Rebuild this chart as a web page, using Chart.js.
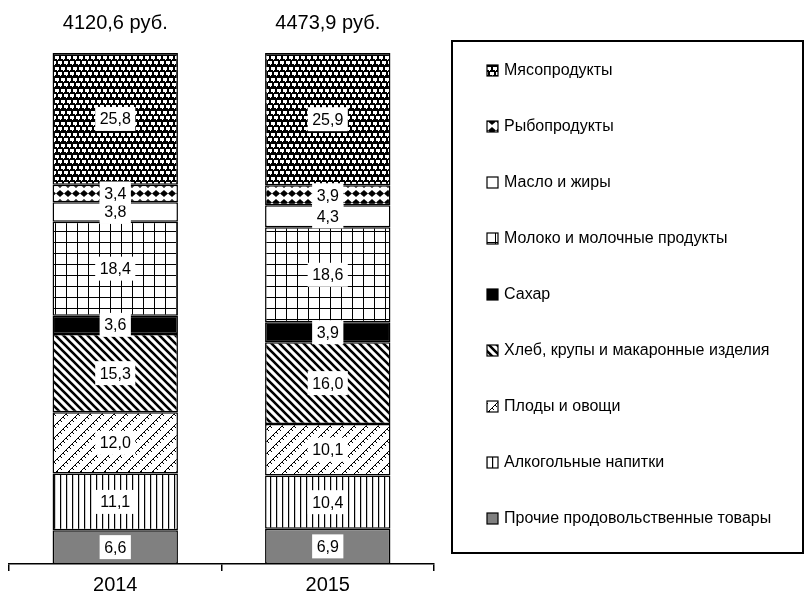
<!DOCTYPE html>
<html lang="ru">
<head>
  <meta charset="utf-8">
  <title>Структура расходов на продукты питания</title>
  <script src="https://cdn.jsdelivr.net/npm/chart.js@4.4.1/dist/chart.umd.min.js"></script>
  <style>
    html, body { margin: 0; padding: 0; background: #fff; }
  </style>
</head>
<body>
  <canvas id="chart-0" width="805" height="593"></canvas>

  <script>
    // data, bottom segment first
    let years = ['2014', '2015'];
    let totals = [4120.6, 4473.9];
    let groups = [
      'Прочие продовольственные товары',
      'Алкогольные напитки',
      'Плоды и овощи',
      'Хлеб, крупы и макаронные изделия',
      'Сахар',
      'Молоко и молочные продукты',
      'Масло и жиры',
      'Рыбопродукты',
      'Мясопродукты'
    ];
    let share2014 = [6.6, 11.1, 12.0, 15.3, 3.6, 18.4, 3.8, 3.4, 25.8];
    let share2015 = [6.9, 10.4, 10.1, 16.0, 3.9, 18.6, 4.3, 3.9, 25.9];

    const FONT = '"Liberation Sans", Arial, sans-serif';
    let ctx = document.getElementById('chart-0').getContext('2d');

    function tile(w, h, paint) {
      let c = document.createElement('canvas');
      c.width = w;
      c.height = h;
      let g = c.getContext('2d');
      g.fillStyle = '#fff';
      g.fillRect(0, 0, w, h);
      g.fillStyle = '#000';
      g.strokeStyle = '#000';
      paint(g, w, h);
      return ctx.createPattern(c, 'repeat');
    }

    let fills = [
      '#808080',
      // vertical lines
      tile(6, 6, function(g) { g.fillRect(0, 0, 1.2, 6); }),
      // brick-like zigzag
      tile(12, 12, function(g) {
        g.lineWidth = 1;
        g.beginPath();
        for (let k = -1; k <= 1; k++) {
          g.moveTo(k * 12, 12); g.lineTo(k * 12 + 12, 0);
        }
        g.moveTo(3, 9); g.lineTo(5, 11);
        g.moveTo(9, 3); g.lineTo(11, 5);
        g.moveTo(-3, 3); g.lineTo(-1, 5);
        g.moveTo(6, 6); g.lineTo(8, 8);
        g.moveTo(0, 0); g.lineTo(2, 2);
        g.stroke();
      }),
      // wide downward diagonals
      tile(8, 8, function(g) {
        g.lineWidth = 2.6;
        g.beginPath();
        for (let k = -1; k <= 1; k++) {
          g.moveTo(k * 8 - 2, -2); g.lineTo(k * 8 + 10, 10);
        }
        g.stroke();
      }),
      '#000',
      // grid
      tile(11, 11, function(g) {
        g.fillRect(0, 0, 1, 11);
        g.fillRect(0, 0, 11, 1);
      }),
      '#fff',
      // diamonds
      tile(8, 9, function(g) {
        g.beginPath();
        g.moveTo(4, 1); g.lineTo(8, 4.5); g.lineTo(4, 8); g.lineTo(0, 4.5);
        g.closePath();
        g.fill();
      }),
      // spheres: black with staggered white squares
      tile(12, 11, function(g) {
        g.fillRect(0, 0, 12, 11);
        g.fillStyle = '#fff';
        g.fillRect(1, 1, 4, 3);
        g.fillRect(7, 1, 4, 3);
        g.fillRect(4, 6, 4, 3);
        g.fillRect(10, 6, 2, 3);
        g.fillRect(0, 6, 2, 3);
        g.fillRect(3, 4, 1, 1);
        g.fillRect(9, 4, 1, 1);
        g.fillRect(0, 9, 1, 1);
        g.fillRect(6, 9, 1, 1);
      })
    ];

    let datasets = groups.map(function(name, i) {
      return {
        label: name,
        data: [share2014[i], share2015[i]],
        backgroundColor: fills[i],
        borderColor: '#000',
        borderWidth: 1.5,
        borderSkipped: false,
        categoryPercentage: 1,
        barPercentage: 0.59
      };
    });

    function fmt(v) {
      return v.toFixed(1).replace('.', ',');
    }

    let segmentLabels = {
      id: 'segmentLabels',
      afterDatasetsDraw: function(chart) {
        let c = chart.ctx;
        c.save();
        c.font = '16px ' + FONT;
        c.textAlign = 'center';
        c.textBaseline = 'middle';
        chart.data.datasets.forEach(function(ds, i) {
          chart.getDatasetMeta(i).data.forEach(function(bar, j) {
            let txt = fmt(ds.data[j]);
            let p = bar.getCenterPoint();
            let w = c.measureText(txt).width + 9;
            c.fillStyle = '#fff';
            c.fillRect(p.x - w / 2, p.y - 12, w, 24);
            c.fillStyle = '#000';
            c.fillText(txt, p.x, p.y + 1);
          });
        });
        // totals above bars
        c.font = '20px ' + FONT;
        chart.getDatasetMeta(0).data.forEach(function(bar, j) {
          c.fillText(fmt(totals[j]) + ' руб.', bar.x, 23);
        });
        c.restore();
      }
    };

    let boxLegend = {
      id: 'boxLegend',
      afterDraw: function(chart) {
        let c = chart.ctx;
        c.save();
        c.lineWidth = 2;
        c.strokeStyle = '#000';
        c.strokeRect(452, 41, 351, 512);
        c.font = '16px ' + FONT;
        c.textBaseline = 'middle';
        let ds = chart.data.datasets.slice().reverse();
        ds.forEach(function(d, k) {
          let y = 70 + k * 56;
          c.fillStyle = d.backgroundColor;
          c.fillRect(487, y - 5, 11, 11);
          c.lineWidth = 1.2;
          c.strokeRect(487, y - 5, 11, 11);
          c.fillStyle = '#000';
          c.fillText(d.label, 504, y + 1);
        });
        c.restore();
      }
    };

    let chart = new Chart(ctx, {
      type: 'bar',
      data: {
        labels: years,
        datasets: datasets
      },
      options: {
        responsive: false,
        animation: false,
        devicePixelRatio: 1,
        layout: {
          padding: { left: 9, right: 371, top: 53, bottom: 0 }
        },
        plugins: {
          legend: { display: false },
          tooltip: { enabled: false }
        },
        scales: {
          x: {
            stacked: true,
            offset: true,
            grid: {
              offset: true,
              drawOnChartArea: false,
              tickLength: 7,
              color: '#000',
              lineWidth: 1.5
            },
            border: { color: '#000', width: 1.5 },
            ticks: {
              color: '#000',
              padding: 2,
              font: { family: FONT, size: 20 }
            },
            afterFit: function(scale) { scale.height = 29; }
          },
          y: {
            stacked: true,
            display: false,
            min: 0,
            max: 100
          }
        }
      },
      plugins: [segmentLabels, boxLegend]
    });
  </script>
</body>
</html>
